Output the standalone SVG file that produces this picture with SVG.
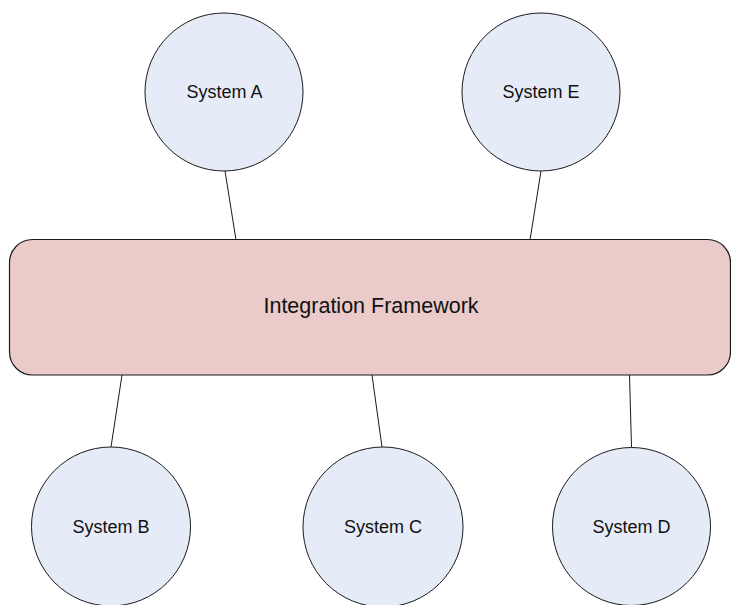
<svg xmlns="http://www.w3.org/2000/svg" width="731" height="605" viewBox="0 0 731 605">
<style>
.sys{fill:#e6ecf7;stroke:#1a1a1a;stroke-width:1}
.fw{fill:#ebcbca;stroke:#1a1a1a;stroke-width:1.2}
.lbl{font-family:"Liberation Sans",Arial,sans-serif;font-size:18px;fill:#111;text-anchor:middle}
.big{font-size:21.5px}
.con line{stroke:#1a1a1a;stroke-width:1}
</style>
<rect width="731" height="605" fill="#fff"/>
<g class="con" id="connectors">
<line x1="225" y1="171" x2="236" y2="240"/>
<line x1="541" y1="171" x2="530" y2="240"/>
<line x1="122" y1="375" x2="111" y2="447"/>
<line x1="372" y1="375" x2="382" y2="447"/>
<line x1="629.5" y1="375" x2="631.5" y2="447"/>
</g>
<g id="framework">
<rect class="fw" x="9.5" y="239.5" width="721" height="135.5" rx="23" ry="23"/>
<text class="lbl big" x="371" y="313">Integration Framework</text>
</g>
<g id="systemA">
<circle class="sys" cx="224" cy="92" r="79"/>
<text class="lbl" x="224.5" y="98">System A</text>
</g>
<g id="systemE">
<circle class="sys" cx="541" cy="92" r="79"/>
<text class="lbl" x="541" y="98">System E</text>
</g>
<g id="systemB">
<circle class="sys" cx="111" cy="526.5" r="79.5"/>
<text class="lbl" x="111" y="532.5">System B</text>
</g>
<g id="systemC">
<circle class="sys" cx="383" cy="527" r="80"/>
<text class="lbl" x="383" y="533">System C</text>
</g>
<g id="systemD">
<circle class="sys" cx="631.5" cy="526.5" r="79"/>
<text class="lbl" x="631.5" y="532.5">System D</text>
</g>
</svg>
